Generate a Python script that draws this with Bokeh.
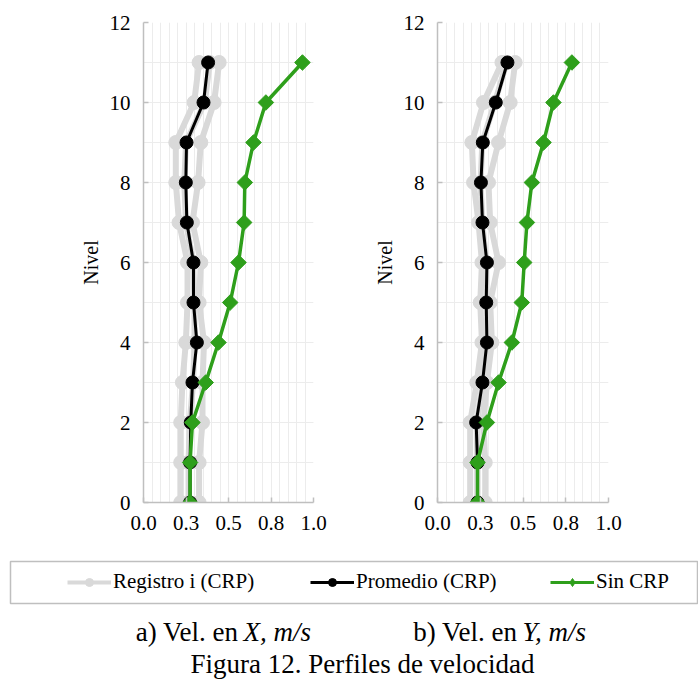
import numpy as np
from bokeh.plotting import figure
from bokeh.models import Range1d, FixedTicker, Legend, LegendItem
from bokeh.layouts import column, row
from bokeh.embed import file_html
from bokeh.resources import INLINE
from bokeh.core.properties import value

# ---------------- data ----------------
niveles = [0, 1, 2, 3, 4, 5, 6, 7, 8, 9, 10, 11]
x_ticks = [0.0, 0.25, 0.5, 0.75, 1.0]
x_tick_labels = ["0.0", "0.3", "0.5", "0.8", "1.0"]
x_minor = [0.05 * i for i in range(21)]
y_ticks = [0, 2, 4, 6, 8, 10, 12]
y_minor = list(range(13))

# a) Vel. en X
vx_reg_1 = [0.219, 0.219, 0.219, 0.229, 0.249, 0.259, 0.259, 0.209, 0.190, 0.190, 0.298, 0.327]
vx_reg_2 = [0.265, 0.265, 0.272, 0.292, 0.300, 0.300, 0.292, 0.250, 0.240, 0.250, 0.360, 0.390]
vx_reg_3 = [0.327, 0.327, 0.347, 0.347, 0.356, 0.327, 0.337, 0.288, 0.321, 0.337, 0.415, 0.445]
vx_prom = [0.274, 0.274, 0.278, 0.288, 0.314, 0.294, 0.294, 0.255, 0.249, 0.253, 0.353, 0.380]
vx_sin = [0.274, 0.274, 0.288, 0.366, 0.441, 0.510, 0.559, 0.592, 0.596, 0.647, 0.720, 0.935]

# b) Vel. en Y
vy_reg_1 = [0.191, 0.191, 0.191, 0.230, 0.260, 0.250, 0.260, 0.240, 0.211, 0.201, 0.269, 0.377]
vy_reg_2 = [0.232, 0.232, 0.230, 0.265, 0.285, 0.288, 0.285, 0.262, 0.252, 0.262, 0.335, 0.405]
vy_reg_3 = [0.279, 0.279, 0.269, 0.289, 0.318, 0.308, 0.357, 0.308, 0.298, 0.357, 0.425, 0.454]
vy_prom = [0.234, 0.234, 0.226, 0.263, 0.289, 0.285, 0.289, 0.263, 0.254, 0.265, 0.341, 0.409]
vy_sin = [0.234, 0.234, 0.289, 0.357, 0.435, 0.493, 0.507, 0.523, 0.552, 0.620, 0.678, 0.786]

legend_labels = ["Registro i (CRP)", "Promedio (CRP)", "Sin CRP"]

# ---------------- style ----------------
GRAY = "#d9d9d9"
GREEN = "#2e9f1b"
AXIS = "#bfbfbf"
GRID = "#ececec"
FONT = "Liberation Serif"


def make_panel(width, left, regs, prom, sin):
    p = figure(width=width, height=542, x_range=Range1d(0, 1), y_range=Range1d(0, 12),
               output_backend="svg", toolbar_location=None,
               min_border_left=left, min_border_right=20, min_border_top=22, min_border_bottom=40)
    p.outline_line_color = None
    xt = FixedTicker(ticks=x_ticks, minor_ticks=x_minor)
    yt = FixedTicker(ticks=y_ticks, minor_ticks=y_minor)
    p.xaxis.ticker = xt
    p.yaxis.ticker = yt
    p.xgrid.ticker = xt
    p.ygrid.ticker = yt
    for g in (p.xgrid, p.ygrid):
        g.grid_line_color = GRID
        g.minor_grid_line_color = GRID
        g.grid_line_width = 1
        g.minor_grid_line_width = 1
    p.xaxis.major_label_overrides = {t: l for t, l in zip(x_ticks, x_tick_labels)}
    for ax in (p.xaxis, p.yaxis):
        ax.axis_line_color = AXIS
        ax.axis_line_width = 1.5
        ax.major_tick_line_color = AXIS
        ax.major_tick_line_width = 1.5
        ax.major_tick_in = 5
        ax.major_tick_out = 0
        ax.minor_tick_line_color = None
        ax.major_label_text_font = FONT
        ax.major_label_text_font_size = "21px"
        ax.major_label_text_color = "black"
        ax.major_label_standoff = 9
    p.yaxis.axis_label = "Nivel"
    p.yaxis.axis_label_text_font = FONT
    p.yaxis.axis_label_text_font_size = "20px"
    p.yaxis.axis_label_text_font_style = "normal"
    p.yaxis.axis_label_text_color = "black"
    p.yaxis.axis_label_standoff = 5

    for reg in regs:
        p.line(reg, niveles, line_color=GRAY, line_width=6)
        p.scatter(reg, niveles, size=14, color=GRAY)
    p.line(prom, niveles, line_color="black", line_width=3)
    p.scatter(prom, niveles, size=13, color="black")
    p.line(sin, niveles, line_color=GREEN, line_width=3.5)
    p.scatter(sin, niveles, marker="square", angle=np.pi / 4, size=11, color=GREEN)
    return p


p1 = make_panel(333, 143, [vx_reg_1, vx_reg_2, vx_reg_3], vx_prom, vx_sin)
p2 = make_panel(295, 104, [vy_reg_1, vy_reg_2, vy_reg_3], vy_prom, vy_sin)

# ---------------- legend + captions ----------------
BW, BH = 698, 139
pb = figure(width=BW, height=BH, x_range=Range1d(0, BW), y_range=Range1d(BH, 0),
            output_backend="svg", toolbar_location=None,
            min_border_left=0, min_border_right=0, min_border_top=0, min_border_bottom=0)
pb.axis.visible = False
pb.grid.visible = False
pb.outline_line_color = None

pb.quad(left=[10], right=[697], top=[19], bottom=[61], fill_color=None,
        line_color=AXIS, line_width=1.5)

# legend swatch renderers (their points lie outside the visible range)
leg_styles = [(GRAY, "circle", 4), ("black", "circle", 3), (GREEN, "diamond", 3)]
leg_x = [67, 310, 550]
for lab, (col, mk, lw), lx in zip(legend_labels, leg_styles, leg_x):
    rl = pb.line([-100, -90], [-100, -100], line_color=col, line_width=lw)
    rs = pb.scatter([-100], [-100], marker=mk, color=col, size=8)
    leg = Legend(items=[LegendItem(label=lab, renderers=[rl, rs])], location=(lx, 87),
                 orientation="horizontal", glyph_width=44, glyph_height=20,
                 label_standoff=2, padding=0, margin=0, border_line_color=None,
                 background_fill_alpha=0, label_text_font=FONT,
                 label_text_font_size="21px", label_text_color="black")
    pb.add_layout(leg)

cap_font = "27px"
pb.text(x=[238], y=[89], text=["a) Vel. en"], text_align="right", text_baseline="alphabetic",
        text_font=value(FONT), text_font_size=cap_font, text_color="black")
pb.text(x=[243], y=[89], text=["X, m/s"], text_align="left", text_baseline="alphabetic",
        text_font=value(FONT), text_font_size=cap_font, text_font_style="italic", text_color="black")
pb.text(x=[517], y=[89], text=["b) Vel. en"], text_align="right", text_baseline="alphabetic",
        text_font=value(FONT), text_font_size=cap_font, text_color="black")
pb.text(x=[522], y=[89], text=["Y, m/s"], text_align="left", text_baseline="alphabetic",
        text_font=value(FONT), text_font_size=cap_font, text_font_style="italic", text_color="black")
pb.text(x=[362], y=[121], text=["Figura 12. Perfiles de velocidad"], text_align="center",
        text_baseline="alphabetic", text_font=value(FONT), text_font_size="27px", text_color="black")

layout = column(row(p1, p2), pb)
open("out.html", "w").write(file_html(layout, INLINE))
